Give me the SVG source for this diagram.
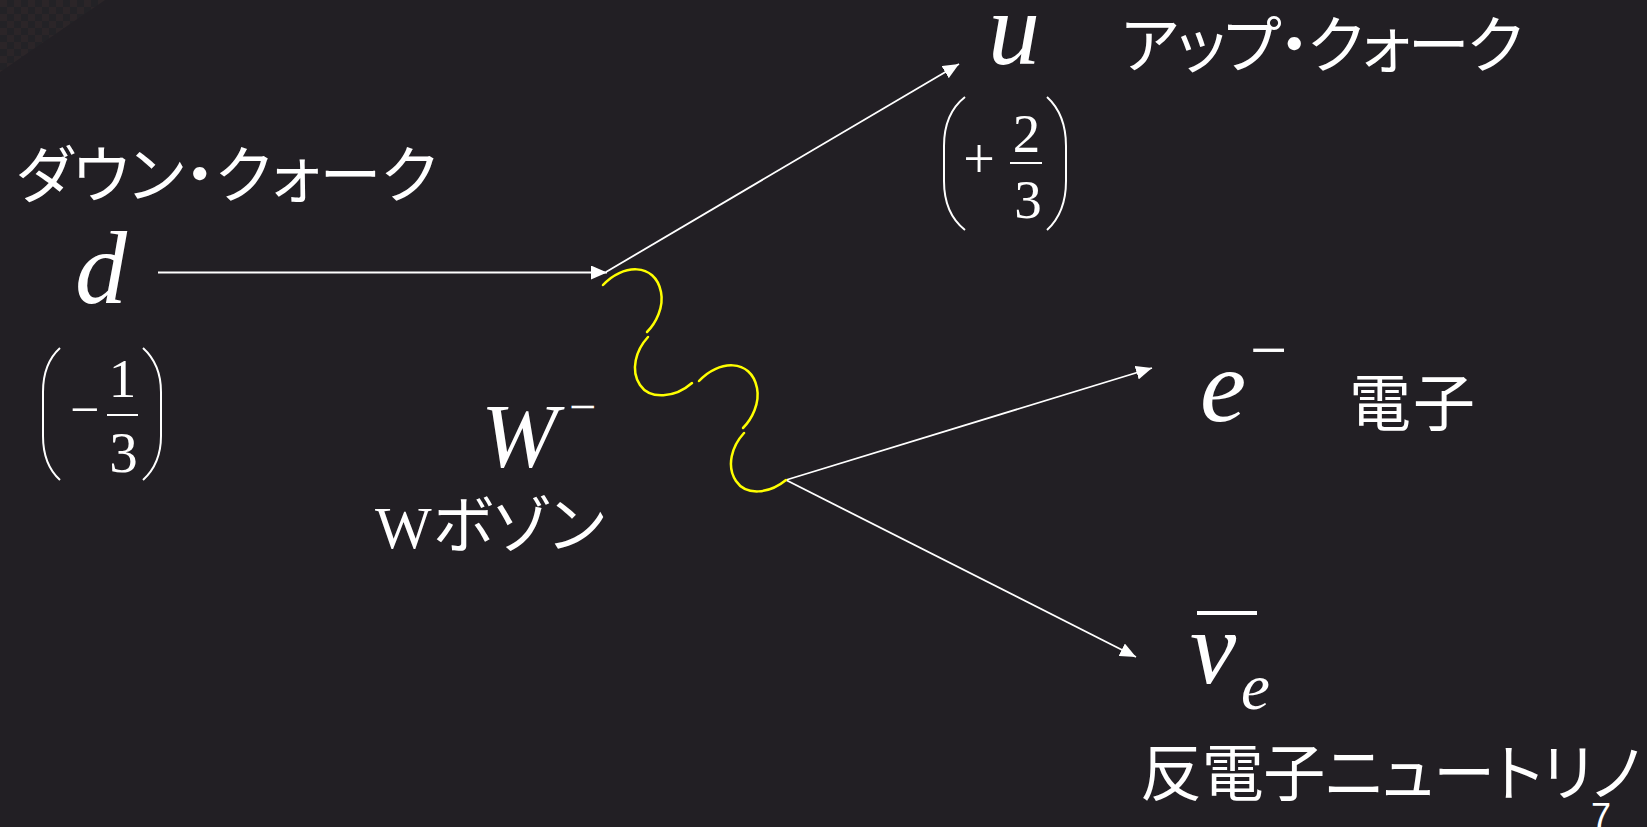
<svg xmlns="http://www.w3.org/2000/svg" width="1647" height="827" viewBox="0 0 1647 827">
  <style>
    .jp { font-family: "Noto Sans CJK JP", "Noto Sans", sans-serif; font-size: 62px; fill: #ffffff; font-feature-settings: "palt"; }
    .arrow { stroke: #ffffff; stroke-width: 1.8; fill: none; marker-end: url(#ah); }
    .wave { stroke: #ffff00; stroke-width: 2.5; fill: none; stroke-linecap: round; }
    .paren { stroke: #ffffff; stroke-width: 2; fill: none; }
    .bar { stroke: #ffffff; stroke-width: 2; }
  </style>
  <defs>
    <marker id="ah" markerUnits="userSpaceOnUse" markerWidth="16" markerHeight="14" refX="16" refY="7" orient="auto">
      <path d="M0,0 L16,7 L0,14 z" fill="#ffffff"/>
    </marker>
    <pattern id="chk" width="14" height="14" patternUnits="userSpaceOnUse">
      <rect width="14" height="14" fill="#232226"/>
      <rect width="7" height="7" fill="#2b2528"/>
      <rect x="7" y="7" width="7" height="7" fill="#2b2528"/>
    </pattern>
  </defs>
  <rect width="1647" height="827" fill="#221f24"/>
  <polygon points="0,0 105,0 0,72" fill="url(#chk)"/>

  <g id="connectors">
    <line class="arrow" x1="158" y1="272.5" x2="607" y2="272.5"/>
    <line class="arrow" x1="606" y1="272" x2="959" y2="64"/>
    <line class="arrow" x1="786" y1="480" x2="1152" y2="368"/>
    <line class="arrow" x1="786" y1="480" x2="1136" y2="657"/>
    <g id="w-boson-line">
      <path class="wave" d="M603,285 C622,264 655,262 661,292 C664,307 656,323 647,332"/>
      <path class="wave" d="M648,337 C636,350 630,370 640,385 C650,400 675,398 692,383"/>
      <path class="wave" d="M699,381 C718,360 751,358 757,388 C760,403 752,419 743,428"/>
      <path class="wave" d="M744,433 C732,446 726,466 736,481 C746,496 769,494 786,480"/>
    </g>
  </g>

  <g id="node-d">
    <text class="jp" x="16" y="198" textLength="421" lengthAdjust="spacing">ダウン・クォーク</text>
    <text x="75" y="303" font-family="Liberation Serif" font-style="italic" font-size="104" fill="#ffffff">d</text>
    <path class="paren" d="M60,348 C49,358 43,372 43,392 L43,436 C43,456 49,470 60,480"/>
    <path class="paren" d="M143,348 C154,358 161,372 161,392 L161,436 C161,456 154,470 143,480"/>
    <text x="70" y="427" font-family="Liberation Serif" font-size="52" fill="#ffffff">−</text>
    <text x="122.5" y="397" font-family="Liberation Serif" font-size="55" fill="#ffffff" text-anchor="middle">1</text>
    <line class="bar" x1="107" y1="415" x2="138" y2="415"/>
    <text x="123.5" y="472" font-family="Liberation Serif" font-size="57" fill="#ffffff" text-anchor="middle">3</text>
  </g>

  <g id="node-u">
    <text x="988" y="64" font-family="Liberation Serif" font-style="italic" font-size="104" fill="#ffffff">u</text>
    <text class="jp" x="1121" y="68" textLength="402" lengthAdjust="spacing">アップ・クォーク</text>
    <path class="paren" d="M965,97 C951,108 944,124 944,146 L944,181 C944,203 951,219 965,230"/>
    <path class="paren" d="M1047,97 C1059,108 1066,124 1066,146 L1066,181 C1066,203 1059,219 1047,230"/>
    <text x="979" y="178" font-family="Liberation Serif" font-size="56" fill="#ffffff" text-anchor="middle">+</text>
    <text x="1026.5" y="152" font-family="Liberation Serif" font-size="55" fill="#ffffff" text-anchor="middle">2</text>
    <line class="bar" x1="1010" y1="163" x2="1042" y2="163"/>
    <text x="1028" y="218" font-family="Liberation Serif" font-size="55" fill="#ffffff" text-anchor="middle">3</text>
  </g>

  <g id="node-w">
    <text font-family="Liberation Serif" fill="#ffffff"><tspan x="481" y="467" font-style="italic" font-size="92">W</tspan><tspan x="569" y="423" font-size="48">−</tspan></text>
    <text y="548" fill="#ffffff"><tspan x="375" font-family="Liberation Serif" font-size="60">W</tspan><tspan class="jp" x="433">ボゾン</tspan></text>
  </g>

  <g id="node-e">
    <text font-family="Liberation Serif" fill="#ffffff"><tspan x="1200" y="421" font-style="italic" font-size="104">e</tspan><tspan x="1250" y="372" font-size="66">−</tspan></text>
    <text class="jp" x="1349" y="426" textLength="126" lengthAdjust="spacing">電子</text>
  </g>

  <g id="node-nu">
    <line x1="1197" y1="613" x2="1257" y2="613" stroke="#ffffff" stroke-width="4"/>
    <text font-family="Liberation Serif" font-style="italic" fill="#ffffff"><tspan x="1190" y="683" font-size="104">ν</tspan><tspan x="1241" y="709" font-size="65">e</tspan></text>
    <text class="jp" x="1140" y="796" textLength="501" lengthAdjust="spacing">反電子ニュートリノ</text>
  </g>

  <g id="page-number">
    <text x="1591" y="829" font-family="Liberation Sans" font-size="36" fill="#ffffff">7</text>
  </g>
</svg>
